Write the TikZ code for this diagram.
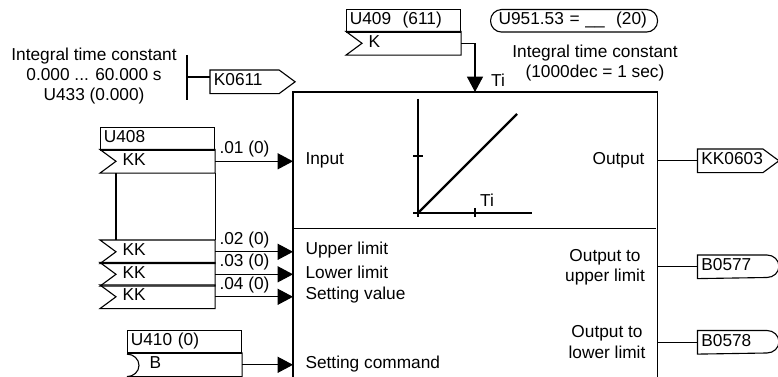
\documentclass[tikz,border=0pt]{standalone}
\usepackage{fontspec}
\setmainfont{Liberation Sans}
\usetikzlibrary{positioning, arrows.meta, calc}

\tikzset{
  lbl/.style={inner sep=0pt, font=\fontsize{14.75}{17.4}\selectfont},
  titlebox/.style={lbl, draw, anchor=north west, text width=3.22cm, inner xsep=0.1cm,
    minimum height=0.675cm, align=left, text height=2.8mm, text depth=0.5mm},
  notchrow/.style={lbl, anchor=north west, text width=3.42cm, minimum height=0.675cm,
    align=left, text height=2.8mm, text depth=0.5mm, execute at begin node={\hspace*{0.66cm}}},
  tagbox/.style={lbl, anchor=north west, minimum height=0.675cm, text width=#1, align=left,
    text height=2.8mm, text depth=0.5mm, execute at begin node={\hspace*{0.1cm}}},
  sig/.style={->}
}

\begin{document}
\begin{tikzpicture}[x=0.03cm, y=-0.03cm, line width=0.95pt,
  >={Triangle[length=4.6mm, width=4.8mm]}]
\useasboundingbox (0,0) rectangle (778,377);

% --- Function block, open at the bottom ---
\node[anchor=north west, inner sep=0pt, minimum width=10.89cm, minimum height=8.55cm] (block) at (293,92) {};
\draw (block.south west) -- (block.north west) -- (block.north east) -- (block.south east);
\draw (293,228.5) -- (656,228.5);

% --- Ramp characteristic ---
\draw (418,99) -- (418,217);
\draw (413,213) -- (532,213);
\draw (413,156) -- (423,156);
\draw (475,208) -- (475,217);
\draw[line width=2.1pt] (418,213) -- (517,114);
\node[lbl] (tiaxis) at (487,200) {Ti};

% --- Parameter on the left ---
\node[lbl, align=center] (ti) at (94,76) {Integral time constant\\0.000 ... 60.000 s\\U433 (0.000)};
\draw (187,55) -- (187,100);
\coordinate (bar) at (187,77);
\node[tagbox=2.52cm] (k0611) at (210,70) {K0611};
\draw (bar) -- (bar -| k0611.west);

% --- Connector blocks ---
\node[titlebox] (u408) at (100,127) {U408};
\node[notchrow] (kk1) at (100,149.5) {KK};
\node[notchrow] (kk2) at (100,240) {KK};
\node[notchrow] (kk3) at (100,262.5) {KK};
\node[notchrow] (kk4) at (100,285) {KK};
\node[titlebox] (u409) at (346,9) {U409\ \ (611)};
\node[notchrow] (u409k) at (346,31.5) {K};
\node[titlebox] (u410) at (127,330) {U410 (0)};
\node[notchrow] (u410b) at (127,353) {B};

\foreach \n in {kk1, kk2, kk3, kk4, u409k} {
  \draw (\n.north west) -- (\n.north east) -- (\n.south east) -- (\n.south west)
    -- ([xshift=0.48cm]\n.west) -- cycle;
}
\draw (u410b.north west) -- (u410b.north east) -- (u410b.south east) -- (u410b.south west)
  arc[start angle=-90, end angle=90, x radius=0.36cm, y radius=0.3375cm];

\draw ([xshift=0.48cm]kk1.south west) -- ([xshift=0.48cm]kk2.north west);
\draw (kk1.south east) -- (kk2.north east);

% --- Inputs ---
\foreach \n in {kk1, kk2, kk3, kk4, u410b} {
  \draw[sig] (\n.east) -- (\n.east -| block.west);
}
\foreach \n/\y/\lab in {a/149/.01 (0), b/240/.02 (0), c/262/.03 (0), d/285/.04 (0)} {
  \node[lbl, anchor=west] (par\n) at (219,\y) {\lab};
}
\foreach \n/\y/\lab in {input/160/Input, upper/250/Upper limit, lower/272/Lower limit,
  value/295/Setting value, command/364/Setting command} {
  \node[lbl, anchor=west] (\n) at (305,\y) {\lab};
}

% --- Ti input from above ---
\coordinate (tiin) at (475,92);
\draw[sig] (u409k.east) -| (tiin);
\node[lbl] (tilab) at (498,80) {Ti};
\node[lbl, draw, rounded corners=0.33cm, anchor=north west, minimum width=5.01cm, minimum height=0.675cm,
  text width=4.53cm, inner xsep=0.24cm, align=left, text height=2.8mm, text depth=0.5mm] (u951) at (490,9)
  {U951.53 = \_\_\ \ (20)};
\node[lbl, align=center] (tinote) at (595,63) {Integral time constant\\(1000dec = 1 sec)};

% --- Outputs ---
\node[lbl, anchor=east] (output) at (645,160) {Output};
\node[lbl, align=center] (toupper) at (605,267) {Output to\\upper limit};
\node[lbl, align=center] (tolower) at (607,342) {Output to\\lower limit};
\node[tagbox=2.41cm] (kk0603) at (697.5,149) {KK0603};
\node[tagbox=2.41cm] (b0577) at (697.5,255) {B0577};
\node[tagbox=2.41cm] (b0578) at (697.5,330.5) {B0578};

\foreach \n in {k0611, kk0603} {
  \draw (\n.north west) -- ([xshift=-0.48cm]\n.north east) -- (\n.east)
    -- ([xshift=-0.48cm]\n.south east) -- (\n.south west) -- cycle;
}
\foreach \n in {b0577, b0578} {
  \draw (\n.south west) -- (\n.north west) -- ([xshift=-0.36cm]\n.north east)
    arc[start angle=90, end angle=-90, x radius=0.36cm, y radius=0.3375cm] -- cycle;
}
\foreach \n in {kk0603, b0577, b0578} {
  \draw (\n.west -| block.east) -- (\n.west);
}

\end{tikzpicture}
\end{document}
